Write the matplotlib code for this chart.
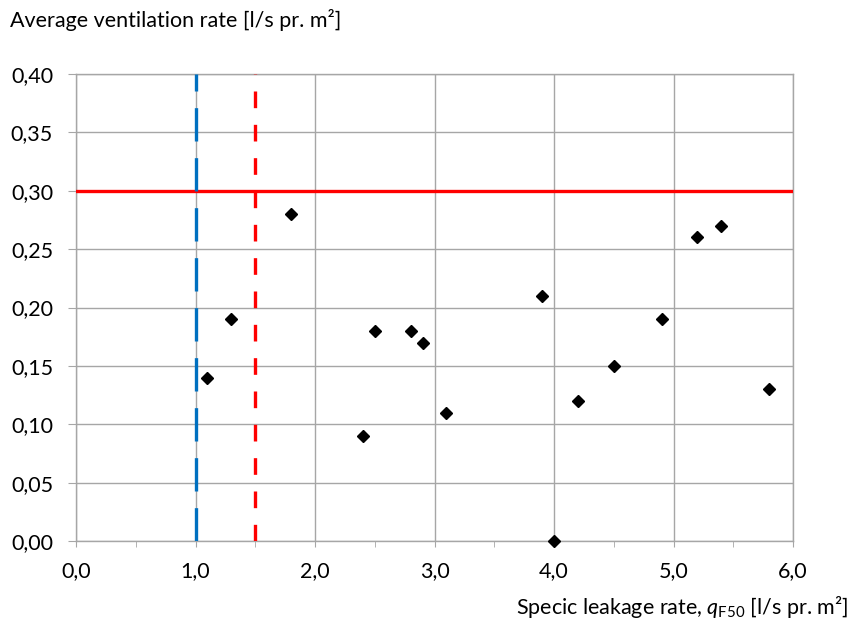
import matplotlib.pyplot as plt
from matplotlib.ticker import MultipleLocator

# data
leakage = [1.1, 1.3, 1.8, 2.4, 2.5, 2.8, 2.9, 3.1, 3.9, 4.0, 4.2, 4.5, 4.9, 5.2, 5.4, 5.8]
ventilation = [0.14, 0.19, 0.28, 0.09, 0.18, 0.18, 0.17, 0.11, 0.21, 0.00, 0.12, 0.15, 0.19, 0.26, 0.27, 0.13]

x_ticks = [0, 1, 2, 3, 4, 5, 6]
x_labels = ['0,0', '1,0', '2,0', '3,0', '4,0', '5,0', '6,0']
y_ticks = [0.00, 0.05, 0.10, 0.15, 0.20, 0.25, 0.30, 0.35, 0.40]
y_labels = ['0,00', '0,05', '0,10', '0,15', '0,20', '0,25', '0,30', '0,35', '0,40']

limit_vent = 0.30      # red horizontal line
limit_blue = 1.0       # blue dashed vertical
limit_red = 1.5        # red dashed vertical

plt.rcParams['font.family'] = ['Lato', 'DejaVu Sans']
plt.rcParams['mathtext.fontset'] = 'custom'
plt.rcParams['mathtext.rm'] = 'Lato'
plt.rcParams['mathtext.it'] = 'Lato:italic'

grid_col = '#A6A6A6'
fs = 15.5

fig = plt.figure(figsize=(8.52, 6.19), dpi=100)
ax = fig.add_axes([76 / 852, 78 / 619, 717 / 852, 467 / 619])

ax.set_xlim(0, 6)
ax.set_ylim(0, 0.40)
ax.set_xticks(x_ticks)
ax.set_xticklabels(x_labels)
ax.set_yticks(y_ticks)
ax.set_yticklabels(y_labels)
ax.xaxis.set_minor_locator(MultipleLocator(0.5))

ax.grid(True, which='major', color=grid_col, linewidth=1.0)
ax.set_axisbelow(True)
for s in ax.spines.values():
    s.set_color(grid_col)
    s.set_linewidth(1.0)

ax.tick_params(axis='both', which='both', color=grid_col, labelsize=fs)
ax.tick_params(axis='y', length=5.5, pad=11)
ax.tick_params(axis='x', which='major', length=4.5, pad=10)
ax.tick_params(axis='x', which='minor', length=4.5)

# reference lines
ax.axhline(limit_vent, color='#FF0000', linewidth=2.4, zorder=3)
ax.axvline(limit_blue, color='#0070C0', linewidth=2.4, dashes=(10, 5), zorder=3)
ax.axvline(limit_red, color='#FF0000', linewidth=2.4, dashes=(5, 5), zorder=3)

ax.plot(leakage, ventilation, linestyle='none', marker='D', markersize=6,
        color='black', zorder=4, clip_on=False)

fig.text(10 / 852, 1 - 20 / 619, 'Average ventilation rate [l/s pr. m²]',
         fontsize=fs, ha='left', va='center')
fig.text(848 / 852, 1 - 607 / 619,
         r'Specic leakage rate, $q_{\mathrm{F50}}$ [l/s pr. m²]',
         fontsize=fs, ha='right', va='center')

plt.savefig('out.png', dpi=100)
